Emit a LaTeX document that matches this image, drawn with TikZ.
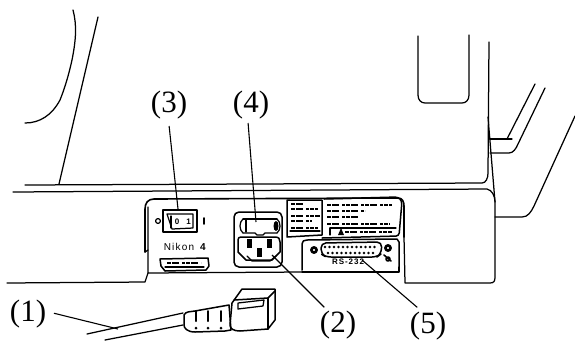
\documentclass[tikz,border=0pt]{standalone}
\usepackage{fontspec}
\setmainfont{Liberation Serif}
\newfontfamily\platefont[LetterSpace=12]{Liberation Sans}
\tikzset{
    outline/.style={line width=1.25pt, line cap=round, line join=round},
    leader/.style={line width=1.1pt, shorten <=1pt},
    callout/.style={font=\fontsize{31}{32}\selectfont, inner sep=0pt},
    smalltext/.style={font=\platefont\bfseries\fontsize{8}{8}\selectfont, inner sep=0pt},
    greek/.style={line width=1.5pt, dash pattern=on 4pt off 1pt on 7pt off 3pt on 3pt off 1pt},
}
\begin{document}
\begin{tikzpicture}[x=1pt, y=-1pt]
    \useasboundingbox (0,0) rectangle (575,341);

    % Housing, left part
    \draw[outline] (73,10) .. controls (77,25) and (76,40) .. (72,60) .. controls (68,78) and (64,90) .. (60,100) .. controls (52,115) and (40,123) .. (25,123);
    \draw[outline] (98,17) -- (59,184);

    % Base lines
    \draw[outline] (25,185) -- (482,183) .. controls (486,183) and (488,178) .. (488,173) -- (489,42);
    \draw[outline] (13,192) -- (487,189) .. controls (492,190) and (495,196) .. (495,202) -- (495,277) .. controls (495,281) and (494,283) .. (490,283) -- (405,283) -- (404,237);
    \draw[outline] (488,117) -- (495,202);
    \draw[outline] (7,283) -- (145,282) -- (148,273);

    % Window in the housing
    \draw[outline] (418,36) -- (418,95) .. controls (418,100) and (421,103) .. (425,103) -- (462,103) .. controls (466,103) and (469,100) .. (469,95) -- (469,35);

    % Right side arms
    \draw[outline] (490,139) -- (512,139);
    \draw[outline] (507,139) -- (535,84);
    \draw[outline] (490,153) -- (509,153) .. controls (513,153) and (516,149) .. (518,144) -- (545,88);
    \draw[outline] (495,217) -- (522,217) .. controls (528,217) and (531,212) .. (534,206) -- (575,116);

    % Rear panel
    \draw[outline, line width=1.6pt] (145,252) -- (145,209) .. controls (145,203) and (148,199) .. (154,199) -- (398,198) .. controls (402,198) and (404,201) .. (404,206) -- (404,237);
    \draw[outline] (148,207) -- (148,273) -- (302,272);
    \draw[outline] (148,250) -- (145,252);
    \draw[outline] (399,267) -- (399,272) -- (302,272);

    % Power switch
    \draw[outline, line width=1.6pt] (163,210) rectangle (197,232);
    \draw[outline] (167,214) -- (193,214) -- (193,228) -- (172,229) -- cycle;
    \draw[outline] (171,216) -- (171,228);
    \node[smalltext] (switchoff) at (177,221.5) {0};
    \node[smalltext] (switchon) at (188.5,221.5) {1};
    \draw[outline] (158,221) circle (2.4);
    \draw[outline, line width=1.6pt] (204,218) -- (204,224);

    % Maker name and plate
    \node[smalltext, font=\platefont\fontsize{10}{10}\selectfont] (maker) at (179,247) {Nikon};
    \node[smalltext, font=\platefont\bfseries\fontsize{10}{10}\selectfont] (makermark) at (203,247) {4};
    \draw[outline, line width=1.5pt] (161,266) -- (160,259) -- (208,258) -- (209,266) -- (206,270) -- (165,271) -- cycle;
    \draw[greek] (167,263) -- (201,263);
    \draw[outline] (165,267) -- (204,267);

    % Power inlet with fuse holder
    \draw[outline, line width=1.5pt, rounded corners=5pt] (234,212) rectangle (282,267);
    \draw[outline] (243,219) -- (277,219);
    \draw[outline] (243,233) -- (255,233) -- (257,235) -- (263,235) -- (265,233) -- (277,233);
    \draw[outline] (243,219) .. controls (239,222) and (239,230) .. (243,233);
    \draw[outline] (277,219) .. controls (281,222) and (281,230) .. (277,233);
    \fill (276,226) ellipse (2.5 and 5);
    \draw[outline] (246,220) -- (246,232);
    \draw[outline, line width=1.5pt] (241,237) -- (275,237) .. controls (279,237) and (280,239) .. (280,242) -- (280,252) -- (272,260) -- (246,260) -- (238,252) -- (238,240) .. controls (238,238) and (239,237) .. (241,237) -- cycle;
    \fill (246.5,239) rectangle (251.5,248);
    \fill (266.5,239) rectangle (271.5,248);
    \fill (257,248) rectangle (262,257);
    \draw[outline] (247,256) -- (252,261) -- (270,261) -- (276,256);

    % Rating labels
    \draw[outline, line width=1.5pt] (287,200) -- (322,200) -- (322,235) -- (287,237) -- cycle;
    \draw[greek, line width=1.2pt] (291,204) -- (305,204);
    \draw[greek, line width=1.2pt] (291,209) -- (318,209);
    \draw[greek, line width=1.8pt] (291,216) -- (320,216);
    \draw[greek, line width=1.2pt] (291,221) -- (312,221);
    \draw[greek, line width=1.5pt] (291,228) -- (318,228);
    \draw[outline] (290,231) -- (320,231);
    \draw[outline, line width=1.5pt, rounded corners=3pt] (324,199) -- (398,197) -- (402,201) -- (399,236) -- (322,238);
    \draw[greek, line width=1.2pt] (327,205) -- (392,205);
    \draw[greek, line width=1.2pt] (327,211) -- (365,211);
    \draw[greek, line width=1.2pt] (327,217) -- (360,217);
    \draw[greek, line width=1.2pt] (327,224) -- (390,224);
    \draw[outline] (330,228) -- (330,235);
    \draw[outline] (330,228) -- (396,228);
    \draw[greek, line width=1.2pt] (345,232) -- (392,232);
    \fill (338,235) -- (341,228) -- (344,235) -- cycle;

    % Serial connector recess
    \draw[outline, line width=1.5pt] (302,270) -- (302,244) .. controls (302,241) and (304,240) .. (307,240) -- (397,239) -- (399,242) -- (399,267);
    \draw[outline, line width=1.5pt, rounded corners=5pt] (321,243) -- (382,242) -- (381,254) -- (377,257) -- (326,257) -- (321,254) -- cycle;
    \foreach \x in {325,329.5,...,378} {
        \fill (\x,247) circle (1.3);
    }
    \foreach \x in {328,332.5,...,376} {
        \fill (\x,253) circle (1.3);
    }
    \draw[outline, line width=2.6pt] (314,250) circle (2.6);
    \draw[outline, line width=2.6pt] (388,248) circle (2.6);
    \draw[outline, line width=1.6pt] (388,259) circle (2) (384,255) -- (391,261);
    \node[smalltext] (portname) at (348,262) {RS-232};

    % Power cord
    \draw[outline] (87,334) -- (183,313);
    \draw[outline] (105,340) -- (183,325);
    \draw[outline, line width=1.5pt] (184,315) .. controls (186,311) and (190,312) .. (195,311) -- (229,305) -- (231,330) -- (225,331) -- (195,332) .. controls (187,332) and (184,328) .. (184,325) -- cycle;
    \foreach \x in {196,208,221} {
        \draw[outline, line width=2pt] (\x,311) -- (\x,321);
        \fill (\x,328) circle (1.5);
    }
    \draw[outline, line width=1.5pt] (232,303) -- (242,289) -- (275,289) -- (275,320) -- (268,329) -- (240,331) .. controls (234,331) and (230,329) .. (230,325) -- (232,303);
    \draw[outline, line width=1.5pt] (234,300) -- (268,298) -- (275,291);
    \draw[outline] (268,298) -- (268,329);
    \draw[outline] (238,303) -- (264,300) -- (263,306) -- (238,309) -- cycle;

    % Callouts and their leaders
    \node[callout] (n1) at (28,314) {(1)};
    \node[callout] (n2) at (338,325) {(2)};
    \node[callout] (n3) at (169,105) {(3)};
    \node[callout] (n4) at (251,105) {(4)};
    \node[callout] (n5) at (428,326) {(5)};
    \coordinate (cord) at (118,329);
    \coordinate (inlet) at (272,255);
    \coordinate (switch) at (178,209);
    \coordinate (fuse) at (256,222);
    \coordinate (port) at (362,260);
    \draw[leader] (n1) ++(25,-1) -- (cord);
    \draw[leader] (n2) ++(-13,-17) -- (inlet);
    \draw[leader] (n3) ++(0,20) -- (switch);
    \draw[leader] (n4) ++(-3,17) -- (fuse);
    \draw[leader] (n5) ++(-10,-18) -- (port);
\end{tikzpicture}
\end{document}
